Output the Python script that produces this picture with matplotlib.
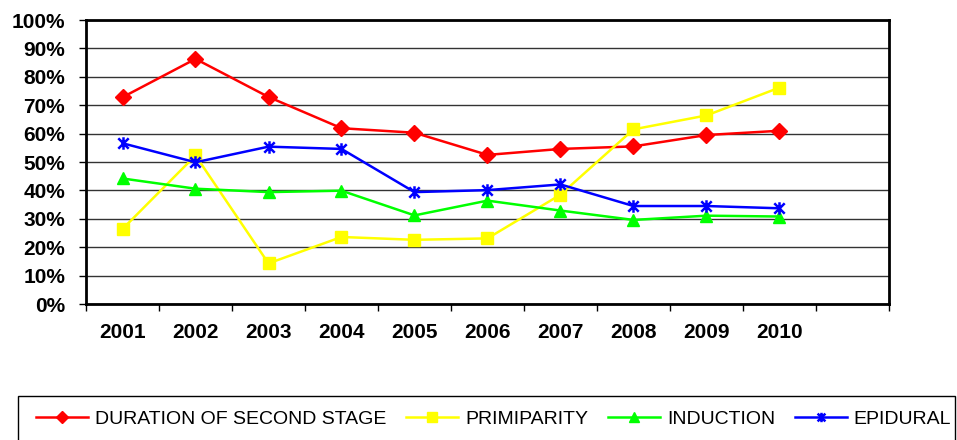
import matplotlib.pyplot as plt
from matplotlib.patches import Rectangle
from matplotlib.path import Path

plt.rcParams['font.family'] = ['Liberation Sans', 'DejaVu Sans']

years = ['2001', '2002', '2003', '2004', '2005', '2006', '2007', '2008', '2009', '2010']
duration = [72.8, 86.3, 72.9, 61.9, 60.3, 52.5, 54.6, 55.5, 59.5, 61.0]
primiparity = [26.4, 52.3, 14.3, 23.6, 22.6, 23.1, 38.5, 61.5, 66.4, 76.2]
induction = [44.2, 40.6, 39.4, 39.9, 31.2, 36.4, 32.9, 29.6, 31.1, 30.8]
epidural = [56.6, 49.9, 55.4, 54.6, 39.4, 40.1, 42.1, 34.5, 34.5, 33.7]
n_slots = 11  # one empty category slot at the right

# Excel-style star: an x with a vertical bar
star = Path([(-1, -1), (1, 1), (-1, 1), (1, -1), (0, -1.2), (0, 1.2)],
            [Path.MOVETO, Path.LINETO, Path.MOVETO, Path.LINETO, Path.MOVETO, Path.LINETO])

fig = plt.figure(figsize=(9.57, 4.4), dpi=100)
ax = fig.add_axes([86 / 957, 1 - 304 / 440, (889 - 86) / 957, (304 - 20) / 440])

x = [i + 0.5 for i in range(len(years))]
ax.plot(x, duration, color='#ff0000', lw=1.8, marker='D', ms=8, label='DURATION OF SECOND STAGE')
ax.plot(x, primiparity, color='#ffff00', lw=1.8, marker='s', ms=9, label='PRIMIPARITY')
ax.plot(x, induction, color='#00ff00', lw=1.8, marker='^', ms=9, label='INDUCTION')
ax.plot(x, epidural, color='#0000ff', lw=1.8, marker=star, ms=9, mew=1.8, label='EPIDURAL')

ax.set_xlim(0, n_slots)
ax.set_ylim(0, 100)
ax.set_yticks(range(0, 101, 10))
ax.set_yticklabels([f'{v}%' for v in range(0, 101, 10)], fontsize=15, fontweight='bold')
ax.set_xticks(range(n_slots + 1))
ax.set_xticklabels([])
ax.set_xticks(x, minor=True)
ax.set_xticklabels(years, minor=True, fontsize=15, fontweight='bold')
ax.tick_params(axis='x', which='minor', length=0, pad=14)
ax.tick_params(axis='x', which='major', length=5, width=1)
ax.tick_params(axis='y', length=5, width=1, pad=10)
ax.yaxis.grid(True, color='#333333', lw=1)
ax.set_axisbelow(True)
for s in ax.spines.values():
    s.set_linewidth(2)

fig.patches.append(Rectangle((18 / 957, -0.05), (955 - 18) / 957, 0.05 + 1 - 396 / 440,
                             transform=fig.transFigure, fill=False, edgecolor='black', lw=1))
fig.legend(loc='center left', bbox_to_anchor=(28 / 957, 1 - 419 / 440), ncol=4, frameon=False,
           fontsize=14, handlelength=2.7, columnspacing=1.0, handletextpad=0.35,
           markerscale=0.75, borderaxespad=0)

fig.savefig('out.png', dpi=100)
